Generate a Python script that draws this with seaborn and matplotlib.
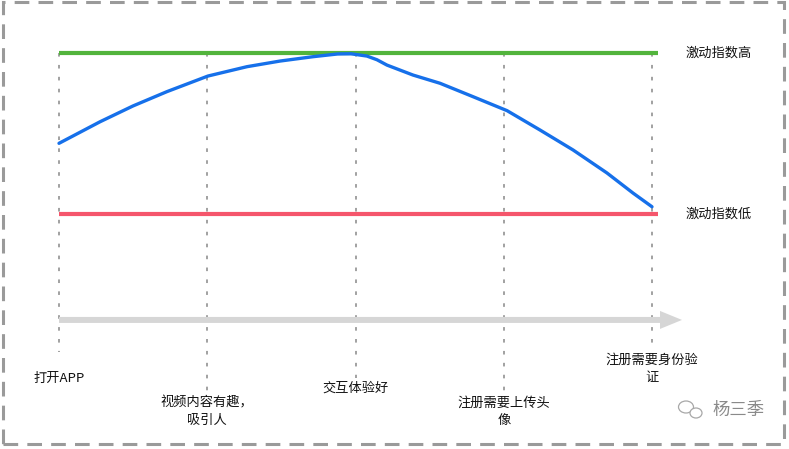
import numpy as np
import pandas as pd
import matplotlib
matplotlib.use('Agg')
import matplotlib.pyplot as plt
from matplotlib.patches import Rectangle, FancyArrow, Ellipse
import seaborn as sns

# данные
stages = ['打开APP', '视频内容有趣，\n吸引人', '交互体验好', '注册需要上传头\n像', '注册需要身份验\n证']
stage_pos = [0, 1, 2, 3, 4]
curve_x = [0.0, 0.277, 0.499, 0.728, 1.005, 1.268, 1.491, 1.713, 1.88, 1.97, 2.077,
           2.145, 2.212, 2.388, 2.57, 2.792, 3.022, 3.244, 3.467, 3.696, 3.872, 4.0]
curve_y = [0.439, 0.573, 0.671, 0.760, 0.857, 0.915, 0.950, 0.977, 0.994, 0.995, 0.981,
           0.958, 0.925, 0.863, 0.812, 0.729, 0.642, 0.522, 0.398, 0.255, 0.130, 0.045]
level_high, level_low = 1.0, 0.0
level_labels = ['激动指数高', '激动指数低']

# раскладка (пиксели -> данные)
PX = 4 / 593.0
X0, X1 = -59 * PX, (789 - 59) * PX
Y0, Y1 = -(449 - 214) / 161.0, 214 / 161.0
line_bottom = [-0.857, -1.124, -1.019, -1.124, -0.814]
label_y = [-1.019, -1.23, -1.08, -1.23, -0.963]

sns.set_style('white')
plt.rcParams['font.family'] = ['Noto Sans CJK SC', 'DejaVu Sans']

fig = plt.figure(figsize=(7.89, 4.49), dpi=100)
ax = fig.add_axes([0, 0, 1, 1])

# рамка
fig.patches.append(Rectangle((3 / 789, 5 / 449), 781 / 789, 442 / 449,
                             transform=fig.transFigure, fill=False,
                             ec='#9a9a9a', lw=2.2, ls=(0, (4.8, 3))))

# вертикальные пунктиры
for x, yb in zip(stage_pos, line_bottom):
    ax.plot([x, x], [level_high, yb], color='#9a9a9a', lw=1.3,
            ls=(0, (2, 4.6)), zorder=1)

# серая стрелка
end = (682 - 59) * PX
ax.add_patch(FancyArrow(0, -0.658, end, 0, width=6 / 161, head_width=18 / 161,
                        head_length=22 * PX, length_includes_head=True,
                        color='#d6d6d6', lw=0, zorder=1))

# уровни
right = (658 - 59) * PX
ax.plot([0, right], [level_high, level_high], color='#52b43c', lw=3, zorder=2,
        solid_capstyle='butt')
ax.plot([0, right], [level_low, level_low], color='#f5566c', lw=3, zorder=2,
        solid_capstyle='butt')

df = pd.DataFrame({'x': curve_x, 'y': curve_y})
sns.lineplot(data=df, x='x', y='y', ax=ax, color='#1670ea', lw=2.4, sort=False,
             zorder=3)
ax.set_xlim(X0, X1)
ax.set_ylim(Y0, Y1)
ax.axis('off')

lx = (686 - 59) * PX
for yv, t in zip([level_high, level_low], level_labels):
    ax.text(lx, yv, t, ha='left', va='center', fontsize=9.5, color='#111111')

for x, yv, t in zip(stage_pos, label_y, stages):
    ax.text(x, yv, t, ha='center', va='center', fontsize=9.5, color='#111111',
            linespacing=1.45)

# водяной знак
wy = -(410 - 214) / 161
ax.text((712 - 59) * PX, wy, '杨三季', ha='left', va='center',
        fontsize=12.5, color='#8a8a8a')
ax.add_patch(Ellipse(((686 - 59) * PX, -(407 - 214) / 161), 15 * PX, 12 / 161,
                     fill=False, ec='#a8a8a8', lw=0.9))
ax.add_patch(Ellipse(((696 - 59) * PX, -(413 - 214) / 161), 12 * PX, 10 / 161,
                     fc='white', ec='#a8a8a8', lw=0.9))

fig.savefig('out.png', dpi=100)
